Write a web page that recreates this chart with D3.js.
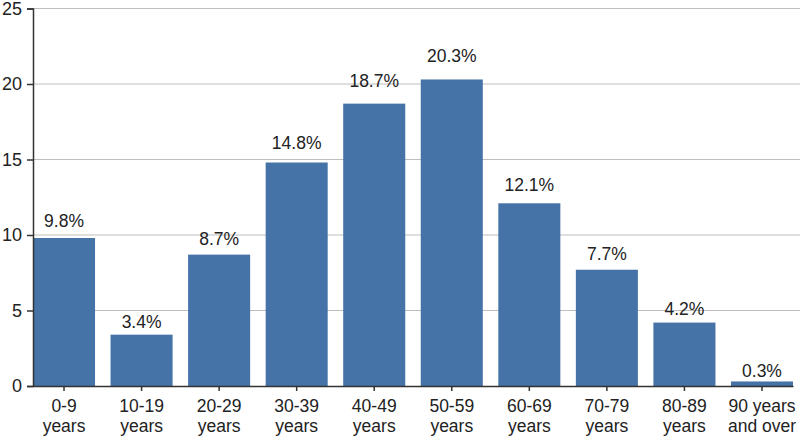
<!DOCTYPE html>
<html>
<head>
<meta charset="utf-8">
<script src="https://cdn.jsdelivr.net/npm/d3@7"></script>
<style>
  body { margin: 0; background: #fff; }
  text { font-family: "Liberation Sans", Arial, sans-serif; fill: #222; }
</style>
</head>
<body>
<div id="chart"></div>
<script>
var categories = ["0-9|years", "10-19|years", "20-29|years", "30-39|years", "40-49|years",
                  "50-59|years", "60-69|years", "70-79|years", "80-89|years", "90 years|and over"];
var percents = [9.8, 3.4, 8.7, 14.8, 18.7, 20.3, 12.1, 7.7, 4.2, 0.3];
var yTicks = [0, 5, 10, 15, 20, 25];

var data = categories.map(function (c, i) { return { cat: c, value: percents[i] }; });

var width = 800, height = 436;
var margin = { top: 8.5, right: 7, bottom: 50, left: 33 };

var svg = d3.select("#chart").append("svg")
    .attr("width", width)
    .attr("height", height);

var x = d3.scaleBand()
    .domain(categories)
    .range([margin.left, width - margin.right])
    .paddingInner(0.2)
    .paddingOuter(0);

var y = d3.scaleLinear()
    .domain([0, 25])
    .range([height - margin.bottom, margin.top]);

// labels in the original sit on a slightly steeper scale than the bars
var labelY = d3.scaleLinear()
    .domain([0, 25])
    .range([y(0) - 4.5, y(25) - 20.5]);

// gridlines
svg.append("g")
    .selectAll("line")
    .data(yTicks.filter(function (d) { return d > 0; }))
    .enter().append("line")
    .attr("x1", margin.left)
    .attr("x2", width)
    .attr("y1", function (d) { return y(d); })
    .attr("y2", function (d) { return y(d); })
    .style("stroke", "#bdbdbd")
    .style("stroke-width", 1.2);

// bars
svg.selectAll(".bar")
    .data(data)
    .enter().append("rect")
    .attr("class", "bar")
    .attr("x", function (d) { return x(d.cat); })
    .attr("y", function (d) { return y(d.value); })
    .attr("width", x.bandwidth())
    .attr("height", function (d) { return y(0) - y(d.value); })
    .style("fill", "#4673a7");

// value labels
svg.selectAll(".lbl")
    .data(data)
    .enter().append("text")
    .attr("class", "lbl")
    .attr("x", function (d) { return x(d.cat) + x.bandwidth() / 2; })
    .attr("y", function (d) { return labelY(d.value); })
    .attr("text-anchor", "middle")
    .style("font-size", "17.5px")
    .text(function (d) { return d.value.toFixed(1) + "%"; });

// y axis
var yAxis = svg.append("g")
    .attr("transform", "translate(" + margin.left + ",0)")
    .call(d3.axisLeft(y).tickValues(yTicks).tickSize(6).tickSizeOuter(6));
yAxis.selectAll("text").style("font-size", "18px").attr("x", -11);

// x axis
var xAxis = svg.append("g")
    .attr("transform", "translate(0," + y(0) + ")")
    .call(d3.axisBottom(x).tickSize(5).tickSizeOuter(0));
xAxis.selectAll("text").remove();
xAxis.selectAll(".tick").append("text")
    .attr("text-anchor", "middle")
    .style("font-size", "17.5px")
    .each(function (d) {
        var parts = d.split("|");
        var t = d3.select(this);
        parts.forEach(function (p, i) {
            t.append("tspan")
                .attr("x", 0)
                .attr("y", 26 + i * 20)
                .text(p);
        });
    });

svg.selectAll(".domain, .tick line")
    .style("stroke", "#333")
    .style("stroke-width", 1.5);
</script>
</body>
</html>
